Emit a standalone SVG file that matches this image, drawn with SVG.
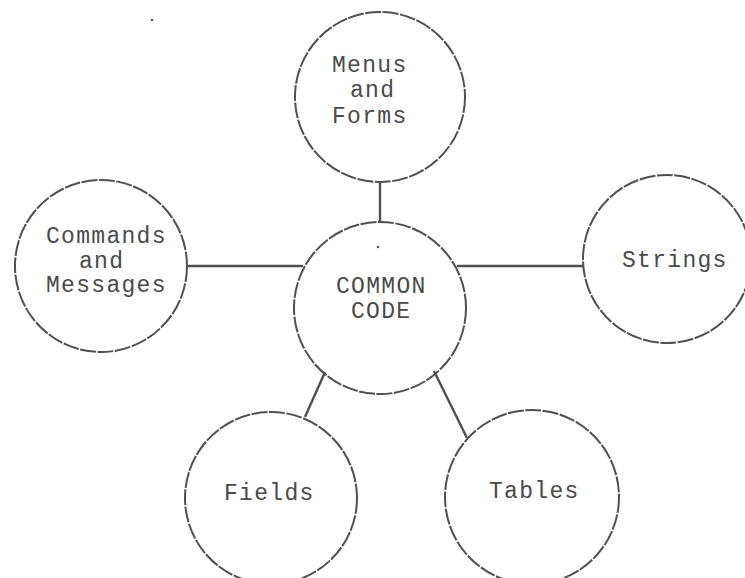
<svg xmlns="http://www.w3.org/2000/svg" width="745" height="578" viewBox="0 0 745 578">
<style>
.bg{fill:#ffffff}
.node{fill:none;stroke:#505050;stroke-width:2;stroke-dasharray:16 1.5}
.edge{stroke:#505050;stroke-width:2.4;fill:none}
.t{font-family:"Liberation Mono","DejaVu Sans Mono",monospace;font-size:23px;letter-spacing:1.3px;fill:#4a4a4a}
</style>
<rect class="bg" x="0" y="0" width="745" height="578"/>
<circle cx="152" cy="20" r="1.3" fill="#555"/>
<g id="connectors">
<line class="edge" x1="380" y1="183" x2="380" y2="223"/>
<line class="edge" x1="188" y1="266" x2="303" y2="266"/>
<line class="edge" x1="457" y1="266" x2="584" y2="266"/>
<line class="edge" x1="325" y1="372" x2="305" y2="417"/>
<line class="edge" x1="434" y1="371" x2="467" y2="438"/>
</g>
<g id="menus">
<circle class="node" cx="380" cy="97" r="85"/>
<text class="t" x="332" y="72">Menus</text>
<text class="t" x="350" y="97">and</text>
<text class="t" x="332" y="123">Forms</text>
</g>
<g id="commands">
<circle class="node" cx="101" cy="266" r="86"/>
<text class="t" x="46" y="243">Commands</text>
<text class="t" x="79" y="268">and</text>
<text class="t" x="46" y="292">Messages</text>
</g>
<g id="common">
<circle class="node" cx="380" cy="308" r="86"/>
<circle cx="378" cy="247" r="1.3" fill="#555"/>
<text class="t" x="336" y="293">COMMON</text>
<text class="t" x="351" y="318">CODE</text>
</g>
<g id="strings">
<circle class="node" cx="667" cy="259" r="84"/>
<text class="t" x="622" y="267">Strings</text>
</g>
<g id="fields">
<circle class="node" cx="271" cy="498" r="86"/>
<text class="t" x="224" y="500">Fields</text>
</g>
<g id="tables">
<circle class="node" cx="532" cy="497" r="87"/>
<text class="t" x="489" y="498">Tables</text>
</g>
</svg>
